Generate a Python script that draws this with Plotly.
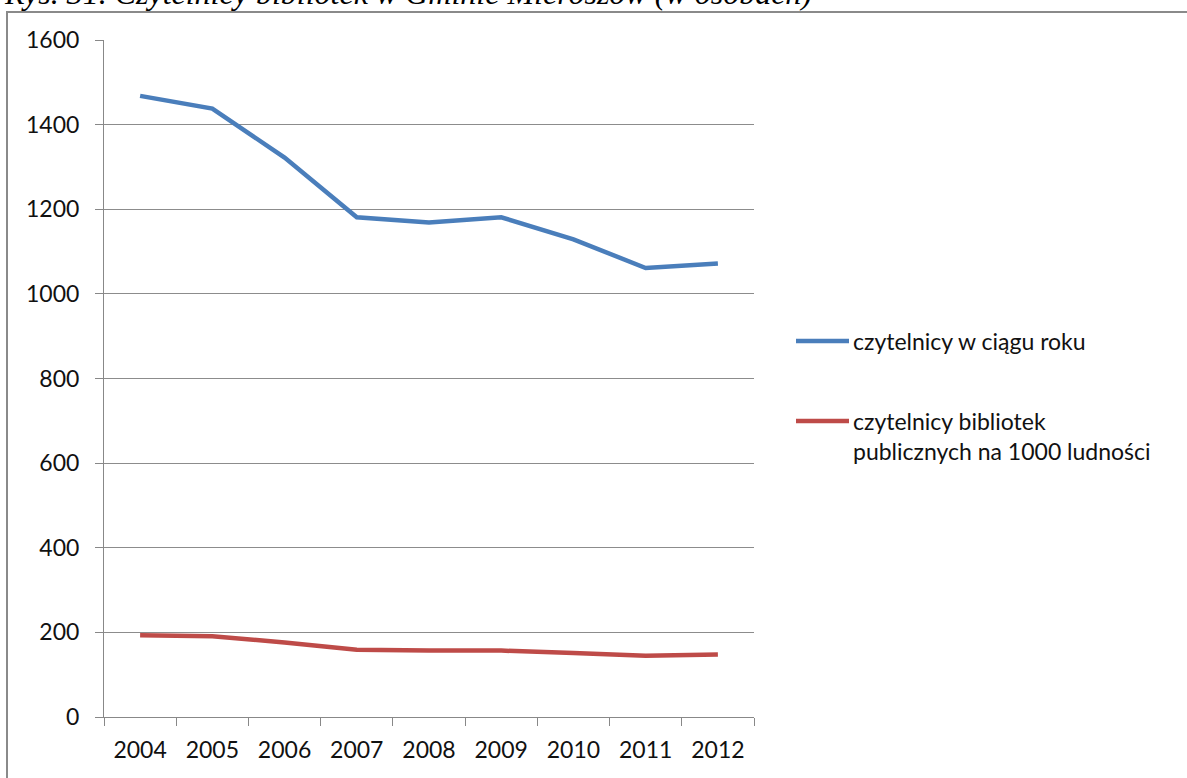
import plotly.graph_objects as go

# Library readers in Gmina Mieroszów, 2004-2012
years = ["2004", "2005", "2006", "2007", "2008", "2009", "2010", "2011", "2012"]
readers_per_year = [1468, 1438, 1322, 1181, 1169, 1181, 1129, 1061, 1072]
readers_per_1000 = [193, 191, 176, 159, 157, 157, 151, 145, 148]

series_names = ["czytelnicy w ciągu roku",
                "czytelnicy bibliotek<br>publicznych na 1000 ludności"]
series_colors = ["#4A7EBB", "#BE4B48"]

y_ticks = [0, 200, 400, 600, 800, 1000, 1200, 1400, 1600]
title_text = "Rys. 31. Czytelnicy bibliotek w Gminie Mieroszów (w osobach)"

W, H = 1187, 778
L, R, T, B = 104, 433, 40, 61
PW, PH = W - L - R, H - T - B


def px_x(x):
    return (x - L) / PW


def px_y(y):
    return (H - B - y) / PH


fig = go.Figure()
for vals, name, col in zip([readers_per_year, readers_per_1000], series_names, series_colors):
    fig.add_trace(go.Scatter(x=years, y=vals, mode="lines", name=name,
                             line=dict(color=col, width=4.5), showlegend=False))

font = dict(family="Lato, Open Sans, sans-serif", size=23, color="#111")

# outer frame of the chart
fig.add_shape(type="rect", xref="paper", yref="paper",
              x0=px_x(7), x1=px_x(W + 20), y0=px_y(H + 20), y1=px_y(12),
              line=dict(color="#8a8a8a", width=2), fillcolor="rgba(0,0,0,0)", layer="below")

# legend
legend_rows = [341, 421]
for ly, name, col in zip(legend_rows, series_names, series_colors):
    fig.add_shape(type="line", xref="paper", yref="paper",
                  x0=px_x(796), x1=px_x(849), y0=px_y(ly), y1=px_y(ly),
                  line=dict(color=col, width=4.5))
    fig.add_annotation(xref="paper", yref="paper", x=px_x(851), y=px_y(ly - 16),
                       xanchor="left", yanchor="top", align="left",
                       text=name, showarrow=False, font=font)

fig.add_annotation(xref="paper", yref="paper", x=px_x(814), y=px_y(13),
                   xanchor="right", yanchor="bottom", text="<i>" + title_text + "</i>",
                   showarrow=False,
                   font=dict(family="Liberation Serif, Times New Roman, serif", size=32, color="#000"))

fig.update_layout(
    width=W, height=H,
    margin=dict(l=L, r=R, t=T, b=B, autoexpand=False),
    paper_bgcolor="white", plot_bgcolor="white",
    font=font,
)
fig.update_xaxes(type="category", range=[-0.5, 8.5], tickson="boundaries",
                 ticks="outside", ticklen=8, tickcolor="#888", tickwidth=1,
                 showline=True, linecolor="#888", linewidth=1,
                 showgrid=False, tickfont=font, ticklabelstandoff=12)
fig.update_yaxes(range=[0, 1600], tickvals=y_ticks, ticks="outside", ticklen=8,
                 tickcolor="#888", tickwidth=1, showline=True, linecolor="#888",
                 linewidth=1, showgrid=True, gridcolor="#8c8c8c", gridwidth=1,
                 zeroline=False, tickfont=font, ticklabelstandoff=11)

fig.write_html("out.html")
